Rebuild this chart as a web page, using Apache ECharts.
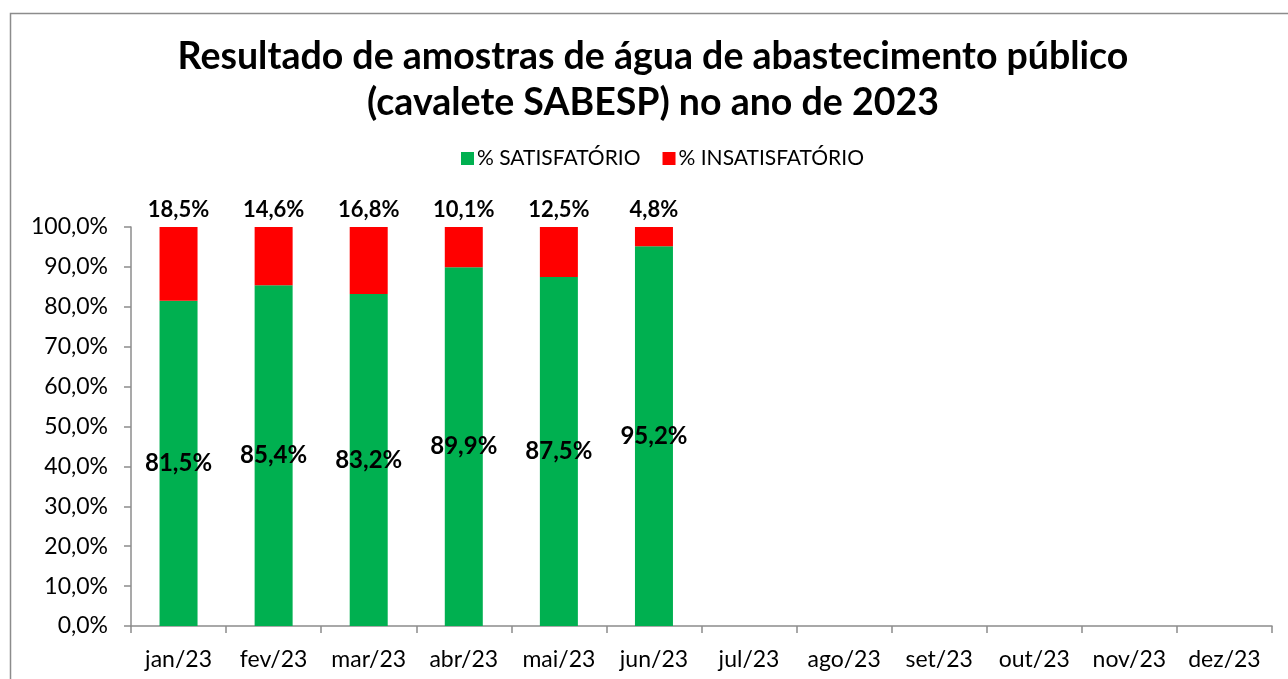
<!DOCTYPE html>
<html><head><meta charset="utf-8">
<script src="https://cdn.jsdelivr.net/npm/echarts@6/dist/echarts.min.js"></script>
<style>html,body{margin:0;padding:0;background:#fff}#c{width:1288px;height:679px}</style>
</head><body><div id="c"></div>
<script>
const categories = ['jan/23','fev/23','mar/23','abr/23','mai/23','jun/23','jul/23','ago/23','set/23','out/23','nov/23','dez/23'];
const satisfatorio = [81.5, 85.4, 83.2, 89.9, 87.5, 95.2, null, null, null, null, null, null];
const insatisfatorio = [18.5, 14.6, 16.8, 10.1, 12.5, 4.8, null, null, null, null, null, null];
const seriesNames = ['% SATISFATÓRIO', '% INSATISFATÓRIO'];
const titleText = 'Resultado de amostras de água de abastecimento público\n(cavalete SABESP) no ano de 2023';

const fmt = v => v.toFixed(1).replace('.', ',') + '%';
const FONT = 'Lato';
const chart = echarts.init(document.getElementById('c'));
chart.setOption({
  animation: false,
  backgroundColor: '#fff',
  graphic: [{type:'rect', shape:{x:10.5,y:13.5,width:1300,height:700}, style:{fill:'none', stroke:'#8c8c8c', lineWidth:1.5}, silent:true, z:-1}],
  title: {
    text: titleText, left: 648, top: 29, textAlign: 'center',
    textStyle: {fontFamily: FONT, fontWeight: 'bold', fontSize: 37.5, lineHeight: 46, color: '#000'}
  },
  legend: {
    data: seriesNames, top: 143, left: 456, itemWidth: 13, itemHeight: 13, itemGap: 22,
    icon: 'rect',
    textStyle: {fontFamily: FONT, fontSize: 21, color: '#000', padding:[0,0,0,-2]}
  },
  grid: {left: 131, right: 16, top: 227, bottom: 53, containLabel: false},
  xAxis: {
    type: 'category', data: categories, boundaryGap: true,
    axisLine: {lineStyle: {color: '#8c8c8c', width: 1.5}},
    axisTick: {show: true, alignWithLabel: false, length: 7, lineStyle: {color: '#8c8c8c', width: 1.5}},
    axisLabel: {fontFamily: FONT, fontSize: 23, color: '#000', margin: 22, interval: 0}
  },
  yAxis: {
    type: 'value', min: 0, max: 100, interval: 10,
    axisLine: {show: true, lineStyle: {color: '#8c8c8c', width: 1.5}},
    axisTick: {show: true, length: 7, lineStyle: {color: '#8c8c8c', width: 1.5}},
    splitLine: {show: false},
    axisLabel: {fontFamily: FONT, fontSize: 23, color: '#000', margin: 23, formatter: v => v.toFixed(1).replace('.', ',') + '%'}
  },
  series: [
    {
      name: seriesNames[0], type: 'bar', stack: 's', data: satisfatorio, barWidth: 38,
      itemStyle: {color: '#00B050'},
      label: {show: true, position: 'inside', formatter: p => p.value == null ? '' : fmt(p.value),
        fontFamily: FONT, fontWeight: 'bold', fontSize: 24, color: '#000'}
    },
    {
      name: seriesNames[1], type: 'bar', stack: 's', data: insatisfatorio, barWidth: 38,
      itemStyle: {color: '#FF0000'},
      label: {show: true, position: 'top', distance: 6, formatter: p => p.value == null ? '' : fmt(p.value),
        fontFamily: FONT, fontWeight: 'bold', fontSize: 22, color: '#000'}
    }
  ]
});
</script></body></html>
